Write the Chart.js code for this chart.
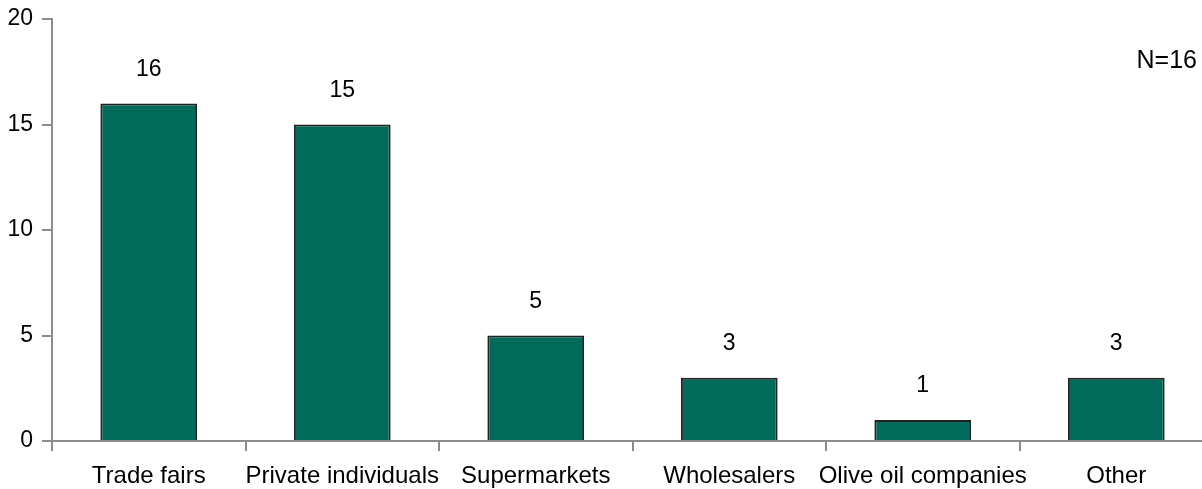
<!DOCTYPE html>
<html lang="en">
<head>
  <meta charset="UTF-8">
  <title>Sales channels</title>
  <style>
    html, body {
      margin: 0;
      padding: 0;
      background: #ffffff;
      overflow: hidden;
    }
    .chart-wrap {
      position: relative;
      width: 1213px;
      height: 489px;
    }
  </style>
</head>
<body>
  <div class="chart-wrap">
    <canvas id="channelChart"></canvas>
  </div>

  <script src="https://cdn.jsdelivr.net/npm/chart.js"></script>
  <script>
    // Data
    const categories = ['Trade fairs', 'Private individuals', 'Supermarkets', 'Wholesalers', 'Olive oil companies', 'Other'];
    const counts = [16, 15, 5, 3, 1, 3];
    const yTicks = [0, 5, 10, 15, 20];
    const sampleNote = 'N=16';

    const axisGrey = '#8c8c8c';
    const fontFamily = "'Liberation Sans', Arial, sans-serif";

    // values above bars + the N note
    const valueLabels = {
      id: 'valueLabels',
      afterDatasetsDraw(chart) {
        const ctx = chart.ctx;
        const meta = chart.getDatasetMeta(0);
        ctx.save();
        ctx.fillStyle = '#000';
        ctx.font = '23px ' + fontFamily;
        ctx.textAlign = 'center';
        ctx.textBaseline = 'middle';
        meta.data.forEach((bar, i) => {
          ctx.fillText(String(counts[i]), bar.x, bar.y - 34);
        });
        ctx.font = '25px ' + fontFamily;
        ctx.textAlign = 'right';
        ctx.fillText(sampleNote, 1197, 61);
        ctx.restore();
      }
    };

    const ctx = document.getElementById('channelChart').getContext('2d');
    const chart = new Chart(ctx, {
      type: 'bar',
      data: {
        labels: categories,
        datasets: [{
          data: counts,
          backgroundColor: '#006b5b',
          borderColor: '#222222',
          borderWidth: 2,
          barPercentage: 0.5,
          categoryPercentage: 1.0
        }]
      },
      options: {
        responsive: true,
        maintainAspectRatio: false,
        animation: false,
        layout: { padding: { top: 19, right: 0, left: 0, bottom: 0 } },
        plugins: {
          legend: { display: false },
          tooltip: { enabled: false }
        },
        scales: {
          x: {
            grid: {
              offset: true,
              drawOnChartArea: false,
              color: axisGrey,
              lineWidth: 2,
              tickLength: 10
            },
            border: { color: axisGrey, width: 2 },
            ticks: {
              color: '#000',
              padding: 11,
              maxRotation: 0,
              autoSkip: false,
              font: { family: fontFamily, size: 24 }
            },
            afterFit(scale) {
              scale.height = 48;
              scale.paddingLeft = 0;
              scale.paddingRight = 0;
            }
          },
          y: {
            min: 0,
            max: 20,
            afterBuildTicks(scale) {
              scale.ticks = yTicks.map(v => ({ value: v }));
            },
            grid: {
              drawOnChartArea: false,
              color: axisGrey,
              lineWidth: 2,
              tickLength: 10
            },
            border: { color: axisGrey, width: 2 },
            ticks: {
              color: '#000',
              padding: 9,
              font: { family: fontFamily, size: 23 }
            },
            afterFit(scale) {
              scale.width = 52;
              scale.paddingTop = 0;
              scale.paddingBottom = 0;
            }
          }
        }
      },
      plugins: [valueLabels]
    });
  </script>
</body>
</html>
